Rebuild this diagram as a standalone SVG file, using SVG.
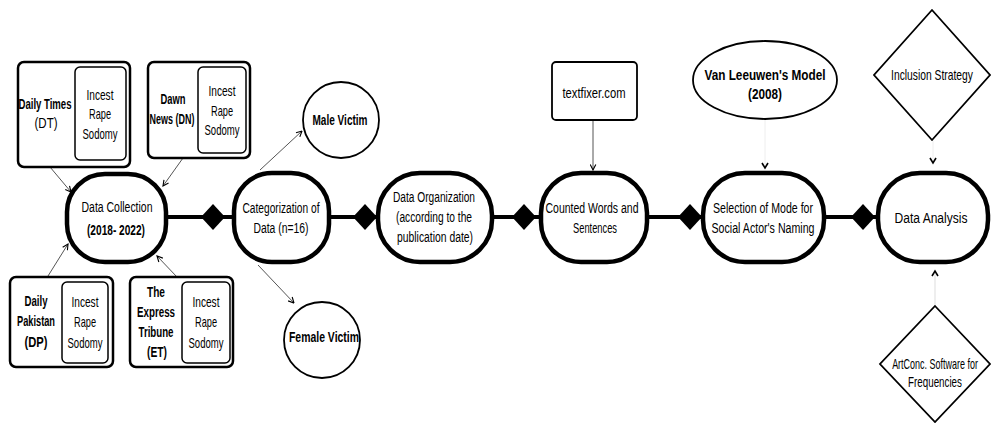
<svg xmlns="http://www.w3.org/2000/svg" width="991" height="423" viewBox="0 0 991 423">
<defs>
<style>
text{font-family:"Liberation Sans",Arial,sans-serif;font-size:14px;fill:#000;text-anchor:middle}
.b{font-weight:bold}
.s{font-size:15px}
.main{fill:#fff;stroke:#000;stroke-width:4.5}
.outer{fill:#fff;stroke:#000;stroke-width:2.5}
.inner{fill:#fff;stroke:#000;stroke-width:1.5}
.thin{fill:#fff;stroke:#000;stroke-width:1.8}
.arr{fill:none;stroke:#555;stroke-width:1;marker-end:url(#ah)}
.spine{stroke:#000;stroke-width:4;fill:none}
.dia{fill:#000}
</style>
<marker id="ah" viewBox="0 0 10 10" refX="9" refY="5" markerWidth="7" markerHeight="7" orient="auto-start-reverse" markerUnits="userSpaceOnUse">
<path d="M1,1 L9,5 L1,9" fill="none" stroke="#000" stroke-width="1.6"/>
</marker>
</defs>
<rect width="991" height="423" fill="#fff"/>

<g id="connectors">
<line class="spine" x1="165" y1="217" x2="880" y2="217"/>
<polygon class="dia" points="213,204 225,217 213,230 201,217"/>
<polygon class="dia" points="365,204 377,217 365,230 353,217"/>
<polygon class="dia" points="524,204 536,217 524,230 512,217"/>
<polygon class="dia" points="690,204 702,217 690,230 678,217"/>
<polygon class="dia" points="863,204 875,217 863,230 851,217"/>
<line class="arr" x1="50" y1="167" x2="71" y2="192"/>
<line class="arr" x1="183" y1="158" x2="163" y2="186"/>
<line class="arr" x1="48" y1="276" x2="68" y2="244"/>
<line class="arr" x1="177" y1="277" x2="157" y2="256"/>
<line class="arr" x1="260" y1="170" x2="302" y2="131"/>
<line class="arr" x1="258" y1="265" x2="294" y2="303"/>
<line class="arr" x1="593" y1="120" x2="593" y2="170"/>
<line fill="none" stroke="#eee" stroke-width="1" x1="765" y1="120" x2="765" y2="166"/>
<path d="M762,163 L765,168 L768,163" fill="none" stroke="#000" stroke-width="1.6"/>
<line fill="none" stroke="#eee" stroke-width="1" x1="933" y1="140" x2="933" y2="161"/>
<path d="M930,158 L933,163 L936,158" fill="none" stroke="#000" stroke-width="1.6"/>
<line fill="none" stroke="#ddd" stroke-width="1" x1="935" y1="306" x2="935" y2="272"/>
<path d="M932,276 L935,271 L938,276" fill="none" stroke="#000" stroke-width="1.6"/>
</g>

<g id="daily-times">
<rect class="outer" x="18" y="62" width="112" height="105" rx="6"/>
<rect class="inner" x="75" y="67" width="51" height="93" rx="5"/>
<text class="b" x="45" y="109" textLength="53" lengthAdjust="spacingAndGlyphs">Daily Times</text>
<text x="46" y="128" textLength="23" lengthAdjust="spacingAndGlyphs">(DT)</text>
<text class="s" x="100" y="100" textLength="27" lengthAdjust="spacingAndGlyphs">Incest</text>
<text class="s" x="100" y="119" textLength="22" lengthAdjust="spacingAndGlyphs">Rape</text>
<text class="s" x="100" y="139" textLength="35" lengthAdjust="spacingAndGlyphs">Sodomy</text>
</g>

<g id="dawn-news">
<rect class="outer" x="148" y="62" width="102" height="96" rx="6"/>
<rect class="inner" x="198" y="67" width="48" height="86" rx="5"/>
<text class="b" x="173" y="104" textLength="25" lengthAdjust="spacingAndGlyphs">Dawn</text>
<text class="b" transform="translate(172,124) scale(0.65,1)" x="0" y="0" textLength="69" lengthAdjust="spacingAndGlyphs">News (DN)</text>
<text class="s" x="222" y="96" textLength="27" lengthAdjust="spacingAndGlyphs">Incest</text>
<text class="s" x="222" y="116" textLength="22" lengthAdjust="spacingAndGlyphs">Rape</text>
<text class="s" x="222" y="135" textLength="35" lengthAdjust="spacingAndGlyphs">Sodomy</text>
</g>

<g id="daily-pakistan">
<rect class="outer" x="10" y="277" width="103" height="90" rx="6"/>
<rect class="inner" x="62" y="282" width="46" height="81" rx="5"/>
<text class="b" x="36" y="306" textLength="23" lengthAdjust="spacingAndGlyphs">Daily</text>
<text class="b" x="36" y="326" textLength="38" lengthAdjust="spacingAndGlyphs">Pakistan</text>
<text class="b" x="36" y="347" textLength="23" lengthAdjust="spacingAndGlyphs">(DP)</text>
<text class="s" x="85" y="307" textLength="27" lengthAdjust="spacingAndGlyphs">Incest</text>
<text class="s" x="85" y="327" textLength="22" lengthAdjust="spacingAndGlyphs">Rape</text>
<text class="s" x="85" y="348" textLength="35" lengthAdjust="spacingAndGlyphs">Sodomy</text>
</g>

<g id="express-tribune">
<rect class="outer" x="130" y="277" width="103" height="90" rx="6"/>
<rect class="inner" x="182" y="282" width="48" height="81" rx="5"/>
<text class="b" x="156" y="297" textLength="18" lengthAdjust="spacingAndGlyphs">The</text>
<text class="b" x="156" y="317" textLength="38" lengthAdjust="spacingAndGlyphs">Express</text>
<text class="b" x="156" y="337" textLength="35" lengthAdjust="spacingAndGlyphs">Tribune</text>
<text class="b" x="157" y="357" textLength="20" lengthAdjust="spacingAndGlyphs">(ET)</text>
<text class="s" x="206" y="307" textLength="27" lengthAdjust="spacingAndGlyphs">Incest</text>
<text class="s" x="206" y="327" textLength="22" lengthAdjust="spacingAndGlyphs">Rape</text>
<text class="s" x="206" y="348" textLength="35" lengthAdjust="spacingAndGlyphs">Sodomy</text>
</g>

<g id="data-collection">
<rect class="main" x="67" y="174" width="99" height="88" rx="38"/>
<text x="117" y="212" textLength="71" lengthAdjust="spacingAndGlyphs">Data Collection</text>
<text class="b" x="116" y="235" textLength="58" lengthAdjust="spacingAndGlyphs">(2018- 2022)</text>
</g>

<g id="categorization">
<rect class="main" x="234" y="173" width="95" height="89" rx="38"/>
<text x="281" y="213" textLength="77" lengthAdjust="spacingAndGlyphs">Categorization of</text>
<text x="281" y="233" textLength="55" lengthAdjust="spacingAndGlyphs">Data (n=16)</text>
</g>

<g id="male-victim">
<circle class="thin" cx="341" cy="120" r="38"/>
<text class="b" x="340" y="125" textLength="55" lengthAdjust="spacingAndGlyphs">Male Victim</text>
</g>

<g id="female-victim">
<circle class="thin" cx="322" cy="340" r="38"/>
<text class="b" x="324" y="342" textLength="70" lengthAdjust="spacingAndGlyphs">Female Victim</text>
</g>

<g id="data-organization">
<rect class="main" x="378" y="173" width="114" height="89" rx="42"/>
<text x="434" y="202" textLength="82" lengthAdjust="spacingAndGlyphs">Data Organization</text>
<text x="434" y="222" textLength="76" lengthAdjust="spacingAndGlyphs">(according to the</text>
<text x="435" y="242" textLength="76" lengthAdjust="spacingAndGlyphs">publication date)</text>
</g>

<g id="textfixer">
<rect class="thin" x="552" y="62" width="85" height="58" rx="4"/>
<text x="594" y="98" textLength="63" lengthAdjust="spacingAndGlyphs">textfixer.com</text>
</g>

<g id="counted-words">
<rect class="main" x="541" y="173" width="106" height="89" rx="40"/>
<text x="592" y="213" textLength="93" lengthAdjust="spacingAndGlyphs">Counted Words and</text>
<text x="595" y="233" textLength="44" lengthAdjust="spacingAndGlyphs">Sentences</text>
</g>

<g id="van-leeuwen">
<ellipse class="thin" cx="765" cy="80" rx="72" ry="39"/>
<text class="b" x="765" y="80" textLength="121" lengthAdjust="spacingAndGlyphs">Van Leeuwen's Model</text>
<text class="b" x="765" y="99" textLength="34" lengthAdjust="spacingAndGlyphs">(2008)</text>
</g>

<g id="selection">
<rect class="main" x="703" y="173" width="121" height="89" rx="42"/>
<text x="763" y="213" textLength="100" lengthAdjust="spacingAndGlyphs">Selection of Mode for</text>
<text x="763" y="233" textLength="103" lengthAdjust="spacingAndGlyphs">Social Actor's Naming</text>
</g>

<g id="inclusion-strategy">
<polygon class="thin" points="932,10 990,75 932,140 874,75"/>
<text transform="translate(932,80) scale(0.7,1)" x="0" y="0" textLength="117" lengthAdjust="spacingAndGlyphs">Inclusion Strategy</text>
</g>

<g id="data-analysis">
<rect class="main" x="878" y="173" width="110" height="89" rx="42"/>
<text x="931" y="223" textLength="73" lengthAdjust="spacingAndGlyphs">Data Analysis</text>
</g>

<g id="artconc">
<polygon class="thin" points="935,306 990,364 935,422 880,364"/>
<text transform="translate(935,369) scale(0.64,1)" x="0" y="0" textLength="134" lengthAdjust="spacingAndGlyphs">ArtConc. Software for</text>
<text transform="translate(935,387) scale(0.7,1)" x="0" y="0" textLength="77" lengthAdjust="spacingAndGlyphs">Frequencies</text>
</g>
</svg>
